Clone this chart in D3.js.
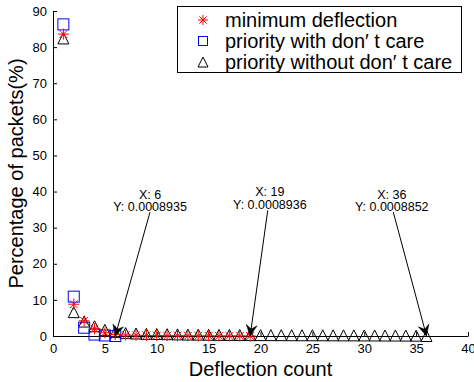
<!DOCTYPE html>
<html><head><meta charset="utf-8">
<script src="https://cdn.jsdelivr.net/npm/d3@7"></script>
<style>
html,body{margin:0;padding:0;background:#fff;}
svg{display:block;font-family:"Liberation Sans",Arial,sans-serif;}
</style></head>
<body><svg id="c" width="474" height="382"></svg>
<script>
// ---- data ----
const seriesNames = ["minimum deflection", "priority with don\u2032 t care", "priority without don\u2032 t care"];
const minDeflX = [1,2,3,4,5,6,7,8,9,10,11,12,13,14,15,16,17,18,19];
const minDeflY = [83.6,8.8,4.2,2.0,0.9,0.4,0.25,0.2,0.15,0.12,0.1,0.08,0.06,0.05,0.04,0.03,0.02,0.01,0.0008936];
const prioX = [1,2,3,4,5,6];
const prioY = [86.3,10.9,2.3,0.4,0.15,0.0008935];
const noCareX = [1,2,3,4,5,6,7,8,9,10,11,12,13,14,15,16,17,18,19,20,21,22,23,24,25,26,27,28,29,30,31,32,33,34,35,36];
const noCareY = [82.4,6.6,4.0,2.7,1.7,1.1,0.8,0.7,0.6,0.55,0.5,0.45,0.4,0.38,0.35,0.32,0.3,0.28,0.25,0.25,0.24,0.23,0.22,0.21,0.2,0.2,0.19,0.18,0.17,0.16,0.15,0.14,0.13,0.12,0.1,0.0008852];
const xTicks = [0,5,10,15,20,25,30,35,40];
const yTicks = [0,10,20,30,40,50,60,70,80,90];
const tipX = [6, 19, 36];
const tipY = [0.0008935, 0.0008936, 0.0008852];
const tipLabelX = [9.35, 20.9, 32.65];
const tipLabelY = [38.0, 38.7, 38.0];
const tipStartX = [9.35, 20.7, 32.8];
const tipStartY = [34.3, 34.8, 34.3];

// ---- layout ----
const svg = d3.select("#c");
const L = 53, R = 468, T = 11, B = 336;
const x = d3.scaleLinear().domain([0,40]).range([L,R]);
const y = d3.scaleLinear().domain([0,90]).range([B,T]);

// axes
const gx = svg.append("g").attr("transform",`translate(0,${B})`)
  .call(d3.axisBottom(x).tickValues(xTicks).tickSizeInner(-4).tickSizeOuter(0).tickPadding(8));
const gy = svg.append("g").attr("transform",`translate(${L},0)`)
  .call(d3.axisLeft(y).tickValues(yTicks).tickSizeInner(-4).tickSizeOuter(0).tickPadding(6));
[gx,gy].forEach(g=>{
  g.selectAll("path.domain").attr("stroke","#000").attr("stroke-width",1);
  g.selectAll(".tick line").attr("stroke","#000");
  g.selectAll(".tick text").attr("font-size",13).attr("fill","#000")
   .attr("font-family","'Liberation Sans',Arial,sans-serif");
});

// marker drawers
function star(g, cx, cy, s){
  const p = `M${cx-s},${cy}L${cx+s},${cy}M${cx},${cy-s}L${cx},${cy+s}` +
    `M${cx-s*0.72},${cy-s*0.72}L${cx+s*0.72},${cy+s*0.72}M${cx-s*0.72},${cy+s*0.72}L${cx+s*0.72},${cy-s*0.72}`;
  g.append("path").attr("d",p).attr("stroke","#ff0000").attr("stroke-width",1).attr("fill","none");
}
function square(g, cx, cy, s){
  g.append("rect").attr("x",cx-s).attr("y",cy-s).attr("width",2*s).attr("height",2*s)
    .attr("stroke","#0000ff").attr("stroke-width",1).attr("fill","none");
}
function tri(g, cx, cy, s){
  g.append("path").attr("d",`M${cx},${cy-s}L${cx+s},${cy+s}L${cx-s},${cy+s}Z`)
    .attr("stroke","#000").attr("stroke-width",1).attr("fill","none");
}

const gm = svg.append("g");
noCareX.forEach((d,i)=>tri(gm, x(d), y(noCareY[i]), 5.5));
prioX.forEach((d,i)=>square(gm, x(d), y(prioY[i]), 5.5));
minDeflX.forEach((d,i)=>star(gm, x(d), y(minDeflY[i]), 5.5));

// data tips
const gt = svg.append("g");
tipX.forEach((d,i)=>{
  const x0 = x(tipStartX[i]), y0 = y(tipStartY[i]);
  const x1 = x(d), y1 = y(tipY[i]);
  gt.append("line").attr("x1",x0).attr("y1",y0).attr("x2",x1).attr("y2",y1)
    .attr("stroke","#000").attr("stroke-width",1);
  const ang = Math.atan2(y1-y0, x1-x0);
  const len = 11, w = 5.5, back = 7;
  const ux = Math.cos(ang), uy = Math.sin(ang);
  const px = -uy, py = ux;
  const p = `M${x1},${y1}L${x1-ux*len+px*w},${y1-uy*len+py*w}L${x1-ux*back},${y1-uy*back}L${x1-ux*len-px*w},${y1-uy*len-py*w}Z`;
  gt.append("path").attr("d",p).attr("fill","#000").attr("stroke","#000").attr("stroke-width",0.5);
  const t = gt.append("text").attr("x",x(tipLabelX[i])).attr("y",y(tipLabelY[i]))
    .attr("text-anchor","middle").attr("font-size",12.5).attr("fill","#000");
  t.append("tspan").attr("x",x(tipLabelX[i])).attr("dy",0).text("X: "+d);
  t.append("tspan").attr("x",x(tipLabelX[i])).attr("dy",12.5).text("Y: "+tipY[i]);
});

// axis labels
svg.append("text").attr("x",(L+R)/2).attr("y",376).attr("text-anchor","middle")
  .attr("font-size",20).attr("fill","#000").text("Deflection count");
svg.append("text").attr("transform",`translate(23,${(T+B)/2}) rotate(-90)`).attr("text-anchor","middle")
  .attr("font-size",20).attr("fill","#000").text("Percentage of packets(%)");

// legend
const lg = svg.append("g");
lg.append("rect").attr("x",177.5).attr("y",6.5).attr("width",284).attr("height",66)
  .attr("fill","#fff").attr("stroke","#000").attr("stroke-width",1);
const rowY = [20, 41, 62];
star(lg, 203, rowY[0], 5);
square(lg, 203, rowY[1], 4.5);
tri(lg, 203, rowY[2], 5);
seriesNames.forEach((n,i)=>{
  lg.append("text").attr("x",225).attr("y",rowY[i]+7).attr("font-size",20).attr("fill","#000").text(n);
});
</script></body></html>
